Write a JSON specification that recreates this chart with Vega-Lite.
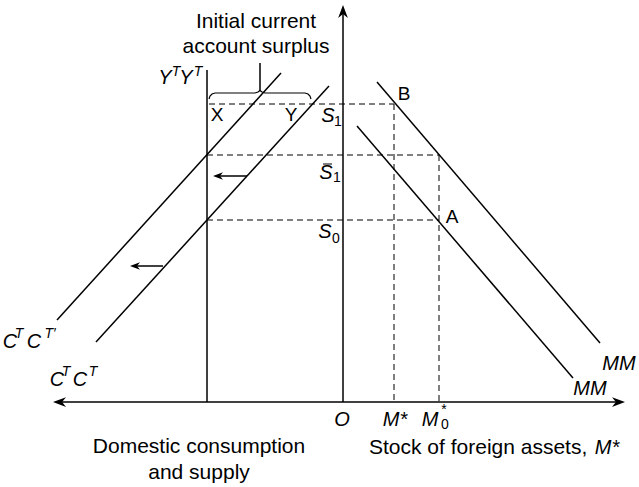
{
  "$schema": "https://vega.github.io/schema/vega-lite/v6.json",
  "width": 639,
  "height": 487,
  "autosize": {"type": "fit", "contains": "padding"},
  "padding": 0,
  "background": "white",
  "config": {"view": {"stroke": null}},
  "datasets": {
    "solid": [
      {"name": "haxis", "x": -287, "y": 0, "x2": 279, "y2": 0},
      {"name": "vaxis", "x": 0, "y": 0, "x2": 0, "y2": 392},
      {"name": "YT", "x": -136, "y": 0, "x2": -136, "y2": 332},
      {"name": "CTprime", "x": -286, "y": 82, "x2": -62, "y2": 329},
      {"name": "CT", "x": -247, "y": 60, "x2": -14, "y2": 316},
      {"name": "MMupper", "x": 34, "y": 320, "x2": 257, "y2": 59},
      {"name": "MMlower", "x": 14, "y": 276, "x2": 230, "y2": 24},
      {"name": "tick", "x": -83, "y": 339, "x2": -83, "y2": 311},
      {"name": "shaft1", "x": -96, "y": 226, "x2": -124, "y2": 226},
      {"name": "shaft2", "x": -180, "y": 136, "x2": -208, "y2": 136}
    ],
    "dashed": [
      {"x": -134, "y": 298, "x2": 51, "y2": 298},
      {"x": -136, "y": 247, "x2": 96, "y2": 247},
      {"x": -136, "y": 182, "x2": 96, "y2": 182},
      {"x": 51, "y": 298, "x2": 51, "y2": 0},
      {"x": 96, "y": 247, "x2": 96, "y2": 0}
    ],
    "bar": [
      {"x": -20, "y": 238, "x2": -11, "y2": 238}
    ],
    "headsLeftBig": [{"x": -290, "y": 0}],
    "headsRightBig": [{"x": 282, "y": 0}],
    "headsUpBig": [{"x": 0, "y": 397}],
    "headsLeftSmall": [{"x": -130, "y": 226}, {"x": -213, "y": 136}],
    "brace": [
      {"i": 1, "x": -134, "y": 303},
      {"i": 2, "x": -133, "y": 306},
      {"i": 3, "x": -131, "y": 308},
      {"i": 4, "x": -128, "y": 309},
      {"i": 5, "x": -88, "y": 309},
      {"i": 6, "x": -85, "y": 310},
      {"i": 7, "x": -83, "y": 311.5},
      {"i": 8, "x": -81, "y": 310},
      {"i": 9, "x": -78, "y": 309},
      {"i": 10, "x": -38, "y": 309},
      {"i": 11, "x": -35, "y": 308},
      {"i": 12, "x": -33, "y": 306},
      {"i": 13, "x": -32, "y": 303}
    ],
    "bigText": [
      {"x": -87, "y": 380, "t": "Initial current"},
      {"x": -87, "y": 355, "t": "account surplus"},
      {"x": -144, "y": -45, "t": "Domestic consumption"},
      {"x": -144, "y": -71, "t": "and supply"}
    ],
    "leftText": [
      {"x": 26, "y": -46, "t": "Stock of foreign assets,"}
    ],
    "letters": [
      {"x": -126, "y": 287, "t": "X"},
      {"x": -52, "y": 287, "t": "Y"},
      {"x": 61, "y": 308, "t": "B"},
      {"x": 109, "y": 185, "t": "A"}
    ],
    "italic": [
      {"x": -15, "y": 286, "t": "S"},
      {"x": -17, "y": 229, "t": "S"},
      {"x": -18, "y": 170, "t": "S"},
      {"x": -1, "y": -18, "t": "O"},
      {"x": 52, "y": -18, "t": "M*"},
      {"x": 87, "y": -18, "t": "M"},
      {"x": 264, "y": -46, "t": "M*"},
      {"x": 276, "y": 38, "t": "MM"},
      {"x": 247, "y": 13, "t": "MM"},
      {"x": -178, "y": 324, "t": "Y"},
      {"x": -157, "y": 324, "t": "Y"},
      {"x": -333, "y": 60, "t": "C"},
      {"x": -309, "y": 60, "t": "C"},
      {"x": -286, "y": 22, "t": "C"},
      {"x": -263, "y": 22, "t": "C"}
    ],
    "sup": [
      {"x": -167, "y": 330, "t": "T"},
      {"x": -145, "y": 330, "t": "T"},
      {"x": -324, "y": 68, "t": "T"},
      {"x": -293, "y": 68, "t": "T′"},
      {"x": -277, "y": 30, "t": "T"},
      {"x": -250, "y": 30, "t": "T"}
    ],
    "sub": [
      {"x": -5, "y": 280, "t": "1"},
      {"x": -6, "y": 224, "t": "1"},
      {"x": -7, "y": 163, "t": "0"},
      {"x": 102, "y": -23, "t": "0"},
      {"x": 101, "y": -8, "t": "*"}
    ]
  },
  "encoding": {
    "x": {"field": "x", "type": "quantitative", "axis": null, "scale": {"domain": [-343, 296], "nice": false, "zero": false}},
    "y": {"field": "y", "type": "quantitative", "axis": null, "scale": {"domain": [-85, 402], "nice": false, "zero": false}}
  },
  "layer": [
    {
      "data": {"name": "dashed"},
      "mark": {"type": "rule", "color": "black", "strokeWidth": 1, "strokeDash": [6, 4]},
      "encoding": {"x2": {"field": "x2"}, "y2": {"field": "y2"}}
    },
    {
      "data": {"name": "solid"},
      "mark": {"type": "rule", "color": "black", "strokeWidth": 1.5},
      "encoding": {"x2": {"field": "x2"}, "y2": {"field": "y2"}}
    },
    {
      "data": {"name": "bar"},
      "mark": {"type": "rule", "color": "black", "strokeWidth": 1},
      "encoding": {"x2": {"field": "x2"}, "y2": {"field": "y2"}}
    },
    {
      "data": {"name": "brace"},
      "mark": {"type": "line", "color": "black", "strokeWidth": 1.2},
      "encoding": {"order": {"field": "i", "type": "quantitative"}}
    },
    {
      "data": {"name": "headsLeftBig"},
      "mark": {"type": "point", "shape": "M0,0L-2,-0.75L-1.4,0L-2,0.75Z", "filled": true, "color": "black", "opacity": 1, "size": 169, "angle": 180, "strokeWidth": 0}
    },
    {
      "data": {"name": "headsRightBig"},
      "mark": {"type": "point", "shape": "M0,0L-2,-0.75L-1.4,0L-2,0.75Z", "filled": true, "color": "black", "opacity": 1, "size": 169, "angle": 0, "strokeWidth": 0}
    },
    {
      "data": {"name": "headsUpBig"},
      "mark": {"type": "point", "shape": "M0,0L-2,-0.75L-1.4,0L-2,0.75Z", "filled": true, "color": "black", "opacity": 1, "size": 169, "angle": 270, "strokeWidth": 0}
    },
    {
      "data": {"name": "headsLeftSmall"},
      "mark": {"type": "point", "shape": "M0,0L-2,-0.75L-1.4,0L-2,0.75Z", "filled": true, "color": "black", "opacity": 1, "size": 100, "angle": 180, "strokeWidth": 0}
    },
    {
      "data": {"name": "bigText"},
      "mark": {"type": "text", "font": "Liberation Sans", "fontSize": 21, "align": "center", "baseline": "middle", "color": "black"},
      "encoding": {"text": {"field": "t"}}
    },
    {
      "data": {"name": "leftText"},
      "mark": {"type": "text", "font": "Liberation Sans", "fontSize": 21, "align": "left", "baseline": "middle", "color": "black"},
      "encoding": {"text": {"field": "t"}}
    },
    {
      "data": {"name": "letters"},
      "mark": {"type": "text", "font": "Liberation Sans", "fontSize": 19, "align": "center", "baseline": "middle", "color": "black"},
      "encoding": {"text": {"field": "t"}}
    },
    {
      "data": {"name": "italic"},
      "mark": {"type": "text", "font": "Liberation Sans", "fontSize": 20, "fontStyle": "italic", "align": "center", "baseline": "middle", "color": "black"},
      "encoding": {"text": {"field": "t"}}
    },
    {
      "data": {"name": "sup"},
      "mark": {"type": "text", "font": "Liberation Sans", "fontSize": 14, "fontStyle": "italic", "align": "center", "baseline": "middle", "color": "black"},
      "encoding": {"text": {"field": "t"}}
    },
    {
      "data": {"name": "sub"},
      "mark": {"type": "text", "font": "Liberation Sans", "fontSize": 14, "align": "center", "baseline": "middle", "color": "black"},
      "encoding": {"text": {"field": "t"}}
    }
  ]
}
